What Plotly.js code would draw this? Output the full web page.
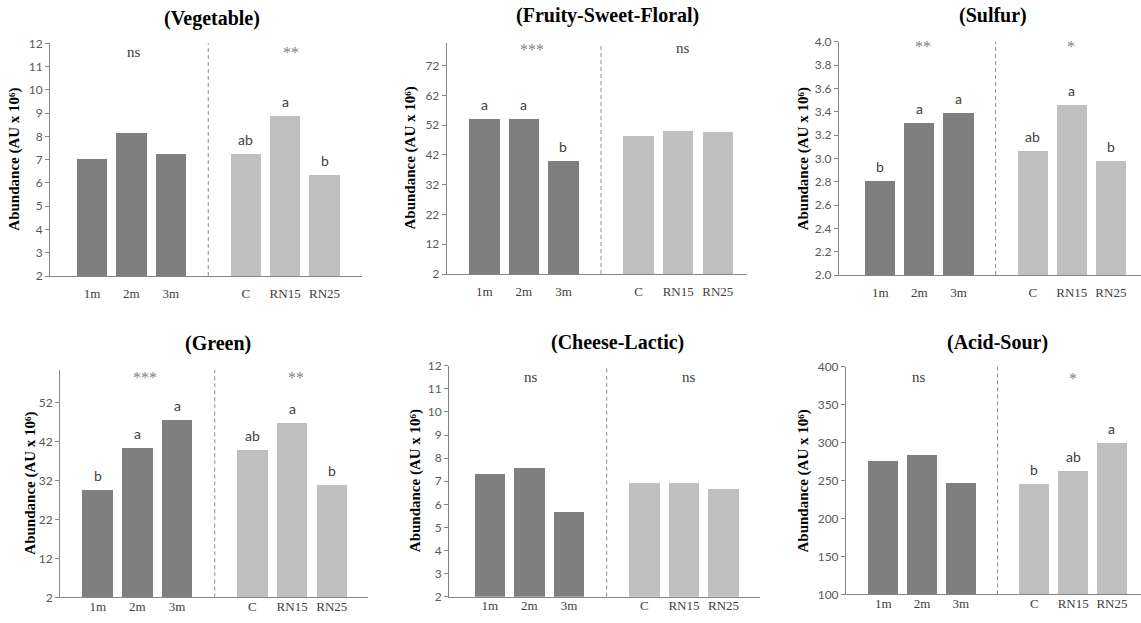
<!DOCTYPE html>
<html>
<head>
<meta charset="utf-8">
<script src="https://cdn.plot.ly/plotly-3.0.1.min.js"></script>
<style>html,body{margin:0;padding:0;background:#fff;}#chart{width:1141px;height:623px;}</style>
</head>
<body>
<div id="chart"></div>
<script>
// ---------- DATA ----------
const categories = ['1m', '2m', '3m', 'C', 'RN15', 'RN25'];

const vegetable = [7.04, 8.15, 7.25, 7.25, 8.86, 6.32];
const fruitySweetFloral = [54.0, 54.0, 40.1, 48.4, 49.9, 49.8];
const sulfur = [2.81, 3.30, 3.39, 3.06, 3.46, 2.98];
const green = [29.4, 40.2, 47.4, 39.7, 46.7, 30.9];
const cheeseLactic = [7.31, 7.58, 5.65, 6.91, 6.91, 6.68];
const acidSour = [275.7, 284.0, 247.0, 245.8, 262.0, 299.8];

const lettersVegetable = ['', '', '', 'ab', 'a', 'b'];
const lettersFruity = ['a', 'a', 'b', '', '', ''];
const lettersSulfur = ['b', 'a', 'a', 'ab', 'a', 'b'];
const lettersGreen = ['b', 'a', 'a', 'ab', 'a', 'b'];
const lettersCheese = ['', '', '', '', '', ''];
const lettersAcid = ['', '', '', 'b', 'ab', 'a'];

const sigVegetable = ['ns', '**'];
const sigFruity = ['***', 'ns'];
const sigSulfur = ['**', '*'];
const sigGreen = ['***', '**'];
const sigCheese = ['ns', 'ns'];
const sigAcid = ['ns', '*'];

const titles = ['(Vegetable)', '(Fruity-Sweet-Floral)', '(Sulfur)', '(Green)', '(Cheese-Lactic)', '(Acid-Sour)'];
const yTitle = 'Abundance (AU x 10\u2076)';

// ---------- LAYOUT HELPERS ----------
const W = 1141, H = 623;
const groupGap = 0.9;
const xpos = categories.map((c, i) => i + (i >= 3 ? groupGap : 0));
const dividerX = 2 + (1 + groupGap) / 2;
const colorsBars = categories.map((c, i) => i < 3 ? '#7f7f7f' : '#bfbfbf');

const panels = [
  {vals: vegetable, letters: lettersVegetable, sig: sigVegetable, yr: [2, 12], tickvals: [2,3,4,5,6,7,8,9,10,11,12], fmt: '',
   xd: [50, 362], yd: [43.3, 276], xr: [-1.066, 6.85], tx: 212, ty: 18, ytx: 15, sigx: [1.07, 5.05], sigy: [52, 50], row: 0},
  {vals: fruitySweetFloral, letters: lettersFruity, sig: sigFruity, yr: [2, 79.6], tickvals: [2,12,22,32,42,52,62,72], fmt: '',
   xd: [446.7, 746.7], yd: [43, 274], xr: [-0.95, 6.63], tx: 607, ty: 15, ytx: 410, sigx: [1.2, 5.03], sigy: [48, 48], row: 0},
  {vals: sulfur, letters: lettersSulfur, sig: sigSulfur, yr: [2, 4], tickvals: [2,2.2,2.4,2.6,2.8,3,3.2,3.4,3.6,3.8,4], fmt: '.1f',
   xd: [839, 1141], yd: [41.7, 275], xr: [-1.056, 6.67], tx: 993, ty: 15, ytx: 803, sigx: [1.09, 4.88], sigy: [45, 45], row: 0},
  {vals: green, letters: lettersGreen, sig: sigGreen, yr: [2, 60.3], tickvals: [2,12,22,32,42,52], fmt: '',
   xd: [60, 368.3], yd: [370, 597.3], xr: [-0.95, 6.82], tx: 218, ty: 343, ytx: 31, sigx: [1.19, 5.0], sigy: [375, 375], row: 1},
  {vals: cheeseLactic, letters: lettersCheese, sig: sigCheese, yr: [2, 12], tickvals: [2,3,4,5,6,7,8,9,10,11,12], fmt: '',
   xd: [449, 760], yd: [365.7, 596.7], xr: [-1.03, 6.82], tx: 617, ty: 342, ytx: 415, sigx: [1.04, 5.03], sigy: [377, 377], row: 1},
  {vals: acidSour, letters: lettersAcid, sig: sigAcid, yr: [100, 400], tickvals: [100,150,200,250,300,350,400], fmt: '',
   xd: [846, 1141], yd: [366.7, 594.3], xr: [-0.96, 6.65], tx: 997, ty: 342, ytx: 803, sigx: [0.92, 4.89], sigy: [377, 376], row: 1}
];

const serif = 'Liberation Serif, Times New Roman, serif';
const sans = 'Lato, Carlito, sans-serif';
const axisColor = '#868686';

const data = [];
const layout = {
  width: W, height: H,
  margin: {l: 0, r: 0, t: 0, b: 0},
  paper_bgcolor: '#ffffff', plot_bgcolor: 'rgba(0,0,0,0)',
  showlegend: false,
  bargap: 0,
  annotations: [],
  shapes: []
};

panels.forEach((p, k) => {
  const n = k + 1;
  const xa = 'x' + (n === 1 ? '' : n);
  const ya = 'y' + (n === 1 ? '' : n);
  const xKey = 'xaxis' + (n === 1 ? '' : n);
  const yKey = 'yaxis' + (n === 1 ? '' : n);

  // bars rise from the axis minimum up to each value
  data.push({
    type: 'bar', x: xpos, y: p.vals.map(v => v - p.yr[0]), base: p.yr[0],
    xaxis: xa, yaxis: ya,
    width: 0.77,
    marker: {color: colorsBars, line: {width: 0}},
    hoverinfo: 'skip'
  });

  layout[xKey] = {
    domain: [p.xd[0] / W, p.xd[1] / W],
    range: p.xr, anchor: ya,
    showline: true, linecolor: axisColor, linewidth: 1,
    showgrid: false, zeroline: false, ticks: '',
    tickmode: 'array', tickvals: xpos, ticktext: categories,
    tickfont: {family: serif, size: 13, color: '#404040'},
    ticklabelstandoff: p.row === 0 ? 5 : -3,
    fixedrange: true
  };
  layout[yKey] = {
    domain: [1 - p.yd[1] / H, 1 - p.yd[0] / H],
    range: p.yr, anchor: xa,
    showline: true, linecolor: axisColor, linewidth: 1,
    showgrid: false, zeroline: false,
    ticks: 'outside', ticklen: 4, tickcolor: axisColor,
    tickmode: 'array', tickvals: p.tickvals,
    tickformat: p.fmt,
    tickfont: {family: sans, size: 12, color: '#595959'},
    fixedrange: true
  };

  // divider between the two groups
  layout.shapes.push({
    type: 'line', xref: xa, yref: ya + ' domain',
    x0: dividerX, x1: dividerX, y0: 0, y1: 1,
    line: {color: '#8c8c8c', width: 1, dash: '4px,3px'}
  });

  // panel title
  layout.annotations.push({
    text: titles[k], xref: 'paper', yref: 'paper',
    x: p.tx / W, y: 1 - p.ty / H, xanchor: 'center', yanchor: 'middle',
    showarrow: false, font: {family: serif, size: 20, color: '#000000', weight: 'bold'}
  });
  // y title
  layout.annotations.push({
    text: yTitle, xref: 'paper', yref: 'paper',
    x: p.ytx / W, y: 1 - ((p.yd[0] + p.yd[1]) / 2) / H,
    xanchor: 'center', yanchor: 'middle', textangle: -90,
    showarrow: false, font: {family: serif, size: 15, color: '#000000', weight: 'bold'}
  });
  // significance
  p.sig.forEach((s, j) => {
    const isStar = s.indexOf('*') >= 0;
    layout.annotations.push({
      text: s, xref: xa, yref: 'paper',
      x: p.sigx[j], y: 1 - (p.sigy[j] + (isStar ? 2 : 0)) / H,
      xanchor: 'center', yanchor: 'middle', showarrow: false,
      font: {family: serif, size: isStar ? 16 : 15, color: isStar ? '#7f7f7f' : '#404040'}
    });
  });
  // letters
  p.letters.forEach((L, i) => {
    if (!L) return;
    layout.annotations.push({
      text: L, xref: xa, yref: ya, x: xpos[i], y: p.vals[i],
      xanchor: 'center', yanchor: 'bottom', yshift: 4, showarrow: false,
      font: {family: sans, size: 14, color: '#404040'}
    });
  });
});

Plotly.newPlot('chart', data, layout, {staticPlot: true, displayModeBar: false});
</script>
</body>
</html>
